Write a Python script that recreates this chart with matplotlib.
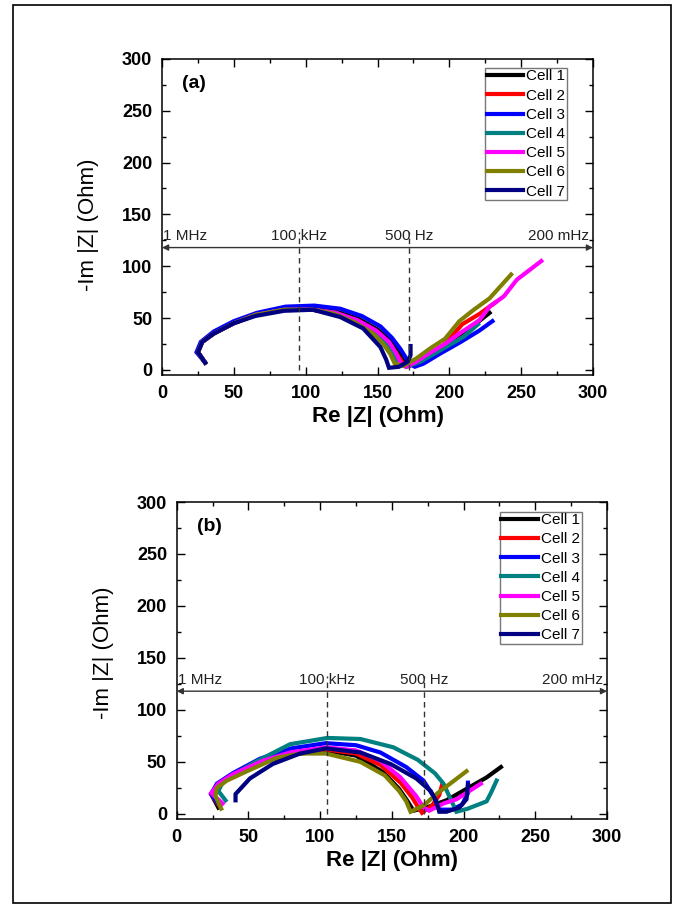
import matplotlib
matplotlib.use("Agg")
import matplotlib.pyplot as plt
from matplotlib.patches import Rectangle
from matplotlib.ticker import MultipleLocator

plt.rcParams['font.family'] = ['Liberation Sans', 'DejaVu Sans']

cells = ["Cell 1", "Cell 2", "Cell 3", "Cell 4", "Cell 5", "Cell 6", "Cell 7"]
colors = ["#000000", "#FF0000", "#0000FF", "#008080", "#FF00FF", "#808000", "#000080"]

# ---- panel (a) data: (Re, -Im) ----
a1_x = [30, 25, 28, 36, 50, 66, 86, 106, 122, 137, 150, 159, 165, 169, 172, 178, 190, 205, 218, 228]
a1_y = [7, 17, 27, 36, 46, 54, 59, 60, 56, 49, 39, 28, 18, 9, 4, 8, 18, 32, 44, 55]
a2_x = [30, 25, 28, 36, 50, 65, 85, 105, 121, 135, 148, 157, 163, 167, 170, 180, 195, 209, 221, 232]
a2_y = [7, 17, 27, 35, 45, 53, 58, 58, 55, 47, 37, 26, 16, 8, 3, 8, 22, 44, 54, 65]
a3_x = [30, 24, 27, 36, 50, 66, 86, 106, 124, 139, 152, 160, 166, 170, 173, 176, 182, 194, 208, 221, 230]
a3_y = [7, 17, 27, 37, 47, 55, 61, 62, 59, 52, 42, 31, 20, 11, 5, 3, 6, 16, 27, 38, 47]
a4_x = [30, 25, 28, 36, 50, 65, 85, 105, 121, 135, 148, 156, 161, 164, 170, 180, 195, 210, 220]
a4_y = [7, 17, 27, 35, 45, 53, 58, 58, 55, 47, 37, 26, 16, 6, 3, 8, 20, 32, 44]
a5_x = [30, 25, 28, 36, 50, 65, 85, 105, 121, 136, 149, 158, 163, 166, 170, 177, 186, 198, 207, 221, 228, 238, 247, 264]
a5_y = [7, 17, 27, 35, 45, 53, 58, 58, 55, 48, 38, 27, 16, 7, 3, 8, 16, 26, 35, 48, 61, 71, 87, 105]
a6_x = [30, 25, 28, 36, 50, 65, 85, 105, 120, 134, 146, 154, 159, 162, 168, 177, 187, 197, 207, 217, 228, 243]
a6_y = [7, 17, 27, 35, 45, 53, 58, 58, 54, 46, 36, 25, 15, 6, 4, 11, 21, 30, 47, 58, 69, 92]
a7_x = [30, 25, 28, 36, 50, 65, 85, 105, 124, 140, 152, 156, 158, 165, 171, 173, 173]
a7_y = [7, 17, 27, 35, 45, 52, 57, 58, 51, 40, 22, 10, 2, 3, 8, 14, 23]

# ---- panel (b) data ----
b1_x = [29, 24, 28, 38, 58, 80, 104, 125, 144, 155, 161, 165, 174, 188, 202, 216, 226]
b1_y = [6, 19, 27, 36, 49, 57, 61, 56, 40, 24, 12, 3, 6, 13, 24, 35, 45]
b2_x = [30, 24, 28, 38, 58, 80, 104, 125, 142, 156, 164, 168, 171, 178, 183, 185]
b2_y = [7, 19, 28, 37, 50, 58, 62, 58, 47, 30, 16, 7, 1, 8, 18, 28]
b3_x = [30, 24, 28, 39, 58, 80, 104, 125, 142, 160, 172, 179, 183, 192, 199, 203, 203]
b3_y = [8, 19, 29, 39, 53, 63, 68, 66, 59, 45, 32, 17, 4, 4, 9, 20, 30]
b4_x = [34, 29, 32, 40, 55, 79, 105, 128, 151, 168, 180, 186, 190, 195, 203, 216, 219, 223]
b4_y = [13, 22, 30, 38, 50, 67, 73, 72, 64, 52, 39, 29, 17, 2, 5, 12, 20, 32]
b5_x = [32, 24, 29, 39, 60, 79, 104, 125, 142, 156, 167, 172, 176, 186, 195, 212]
b5_y = [10, 20, 29, 38, 51, 59, 64, 61, 51, 35, 17, 6, 3, 10, 14, 29]
b6_x = [31, 27, 28, 35, 49, 70, 86, 104, 128, 145, 155, 160, 163, 172, 182, 202]
b6_y = [5, 17, 25, 32, 41, 54, 58, 58, 50, 37, 22, 12, 2, 8, 20, 41]
b7_x = [41, 41, 51, 67, 86, 104, 128, 149, 167, 177, 181, 183, 188, 197, 202, 203]
b7_y = [13, 19, 34, 48, 58, 63, 59, 48, 34, 22, 12, 2, 2, 6, 14, 28]

panels = [
    dict(tag="(a)", xs=[a1_x, a2_x, a3_x, a4_x, a5_x, a6_x, a7_x],
         ys=[a1_y, a2_y, a3_y, a4_y, a5_y, a6_y, a7_y],
         freq_x=[95.4, 172.0], rect=[0.2404, 0.5865, 0.6394, 0.3485],
         leg=(0.9397, 0.9715), ylab=(-0.146, 0.475)),
    dict(tag="(b)", xs=[b1_x, b2_x, b3_x, b4_x, b5_x, b6_x, b7_x],
         ys=[b1_y, b2_y, b3_y, b4_y, b5_y, b6_y, b7_y],
         freq_x=[105.0, 172.4], rect=[0.2622, 0.0970, 0.6385, 0.3495],
         leg=(0.941, 0.9694), ylab=(-0.146, 0.524)),
]

freq_labels = ["1 MHz", "100 kHz", "500 Hz", "200 mHz"]
freq_y = 118

fig = plt.figure(figsize=(6.74, 9.07), dpi=100)
fig.patches.append(Rectangle((0.0193, 0.004), 0.9762, 0.991, transform=fig.transFigure,
                             fill=False, edgecolor="black", linewidth=1.2))

for p in panels:
    ax = fig.add_axes(p["rect"])
    for xs, ys, c, lab in zip(p["xs"], p["ys"], colors, cells):
        ax.plot(xs, ys, color=c, lw=3.0, label=lab, solid_joinstyle="miter")
    ax.set_xlim(0, 300)
    ax.set_ylim(-5, 300)
    ax.xaxis.set_major_locator(MultipleLocator(50))
    ax.xaxis.set_minor_locator(MultipleLocator(25))
    ax.yaxis.set_major_locator(MultipleLocator(50))
    ax.yaxis.set_minor_locator(MultipleLocator(25))
    ax.tick_params(which="both", direction="in", top=True, right=True, width=1.0)
    ax.tick_params(which="major", length=6, pad=7)
    ax.tick_params(which="minor", length=3)
    for lbl in ax.get_xticklabels() + ax.get_yticklabels():
        lbl.set_fontweight("bold")
        lbl.set_fontsize(13)
    for s in ax.spines.values():
        s.set_linewidth(1.1)
    ax.set_xlabel("Re |Z| (Ohm)", fontsize=16, fontweight="bold", labelpad=3)
    ax.set_ylabel("-Im |Z| (Ohm)", fontsize=16)
    ax.yaxis.set_label_coords(*p["ylab"])
    ax.text(0.046, 0.949, p["tag"], transform=ax.transAxes, fontsize=14,
            fontweight="bold", va="top", ha="left")
    # frequency axis
    ax.annotate("", xy=(300, freq_y), xytext=(0, freq_y),
                arrowprops=dict(arrowstyle="<|-|>", color="#333333", lw=1.0,
                                mutation_scale=9, shrinkA=0, shrinkB=0))
    for fx in p["freq_x"]:
        ax.plot([fx, fx], [0, 133], color="#333333", lw=1.0, ls=(0, (4, 3)))
    ax.text(1, freq_y + 4, freq_labels[0], fontsize=11, ha="left", va="bottom", color="#222222")
    ax.text(p["freq_x"][0], freq_y + 4, freq_labels[1], fontsize=11, ha="center", va="bottom", color="#222222")
    ax.text(p["freq_x"][1], freq_y + 4, freq_labels[2], fontsize=11, ha="center", va="bottom", color="#222222")
    ax.text(297, freq_y + 4, freq_labels[3], fontsize=11, ha="right", va="bottom", color="#222222")
    leg = ax.legend(loc="upper right", bbox_to_anchor=p["leg"], borderaxespad=0,
                    fontsize=11, frameon=True, fancybox=False, edgecolor="#555555",
                    handlelength=2.4, handletextpad=0.2, labelspacing=0.34,
                    borderpad=0.1)
    leg.get_frame().set_linewidth(1.0)
    for h in leg.get_lines():
        h.set_linewidth(3.0)

fig.savefig("out.png", dpi=100)
